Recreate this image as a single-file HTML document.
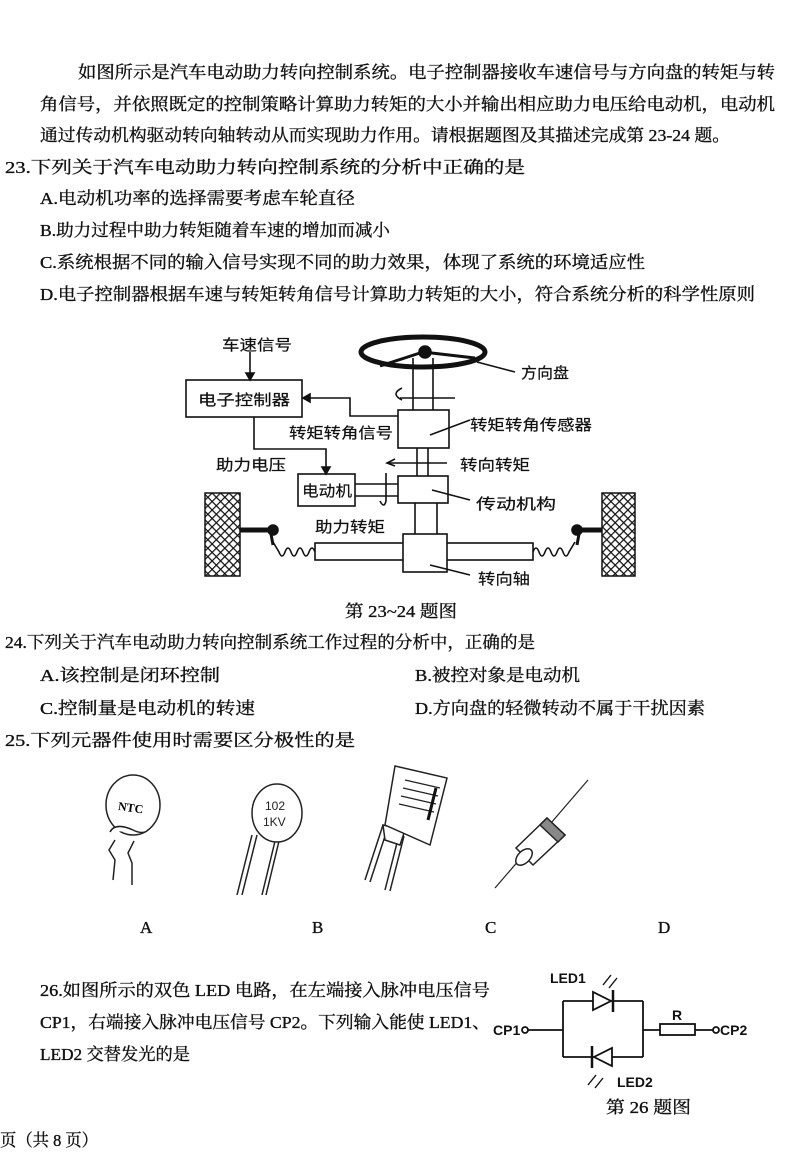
<!DOCTYPE html>
<html><head><meta charset="utf-8"><style>
html,body{margin:0;padding:0;background:#fff;}
svg{display:block;}
.t{font-family:"Liberation Serif","Noto Serif CJK SC",serif;font-size:17px;fill:#111;stroke:#111;stroke-width:0.35;}
.s{font-family:"Liberation Sans","Noto Sans CJK SC",sans-serif;font-size:15px;fill:#111;stroke:#111;stroke-width:0.2;}
</style></head><body>
<svg width="800" height="1168" viewBox="0 0 800 1168" xmlns="http://www.w3.org/2000/svg">
<g class="t">
<text x="78" y="78" textLength="697" lengthAdjust="spacingAndGlyphs">如图所示是汽车电动助力转向控制系统。电子控制器接收车速信号与方向盘的转矩与转</text>
<text x="40" y="110" textLength="735" lengthAdjust="spacingAndGlyphs">角信号，并依照既定的控制策略计算助力转矩的大小并输出相应助力电压给电动机，电动机</text>
<text x="40" y="141" textLength="690" lengthAdjust="spacingAndGlyphs">通过传动机构驱动转向轴转动从而实现助力作用。请根据题图及其描述完成第 23-24 题。</text>
<text x="5" y="173" textLength="520" lengthAdjust="spacingAndGlyphs">23.下列关于汽车电动助力转向控制系统的分析中正确的是</text>
<text x="40" y="204" textLength="315" lengthAdjust="spacingAndGlyphs">A.电动机功率的选择需要考虑车轮直径</text>
<text x="40" y="236" textLength="350" lengthAdjust="spacingAndGlyphs">B.助力过程中助力转矩随着车速的增加而减小</text>
<text x="40" y="268" textLength="605" lengthAdjust="spacingAndGlyphs">C.系统根据不同的输入信号实现不同的助力效果，体现了系统的环境适应性</text>
<text x="40" y="300" textLength="715" lengthAdjust="spacingAndGlyphs">D.电子控制器根据车速与转矩转角信号计算助力转矩的大小，符合系统分析的科学性原则</text>
<text x="345" y="617" textLength="112" lengthAdjust="spacingAndGlyphs">第 23~24 题图</text>
<text x="5" y="648" textLength="530" lengthAdjust="spacingAndGlyphs">24.下列关于汽车电动助力转向控制系统工作过程的分析中，正确的是</text>
<text x="40" y="681" textLength="180" lengthAdjust="spacingAndGlyphs">A.该控制是闭环控制</text>
<text x="415" y="681" textLength="165" lengthAdjust="spacingAndGlyphs">B.被控对象是电动机</text>
<text x="40" y="714" textLength="215" lengthAdjust="spacingAndGlyphs">C.控制量是电动机的转速</text>
<text x="415" y="714" textLength="290" lengthAdjust="spacingAndGlyphs">D.方向盘的轻微转动不属于干扰因素</text>
<text x="5" y="746" textLength="350" lengthAdjust="spacingAndGlyphs">25.下列元器件使用时需要区分极性的是</text>
<text x="140" y="933">A</text><text x="312" y="933">B</text><text x="485" y="933">C</text><text x="658" y="933">D</text>
<text x="40" y="996" textLength="450" lengthAdjust="spacingAndGlyphs">26.如图所示的双色 LED 电路，在左端接入脉冲电压信号</text>
<text x="40" y="1028" textLength="450" lengthAdjust="spacingAndGlyphs">CP1，右端接入脉冲电压信号 CP2。下列输入能使 LED1、</text>
<text x="40" y="1060" textLength="150" lengthAdjust="spacingAndGlyphs">LED2 交替发光的是</text>
<text x="606" y="1113" textLength="85" lengthAdjust="spacingAndGlyphs">第 26 题图</text>
<text x="0" y="1146" textLength="98" lengthAdjust="spacingAndGlyphs">页（共 8 页）</text>
</g>

<g stroke="#111" fill="none" stroke-width="1.6">
<rect x="186" y="380" width="116" height="37"/>
<line x1="250" y1="352" x2="250" y2="374"/>
<polygon points="246,373 254,373 250,380" fill="#111"/>
<ellipse cx="423" cy="352" rx="62" ry="15" stroke-width="5"/>
<line x1="423" y1="352" x2="380" y2="366" stroke-width="3"/>
<line x1="423" y1="352" x2="475" y2="358" stroke-width="3"/>
<circle cx="425" cy="352" r="6" fill="#111"/>
<line x1="413" y1="358" x2="413" y2="410"/><line x1="433" y1="358" x2="433" y2="410"/>
<line x1="400" y1="398" x2="455" y2="398"/>
<path d="M402,388 q-12,6 0,12"/>
<rect x="398" y="410" width="51" height="38" fill="#fff"/>
<polyline points="398,416 350,416 350,398 310,398"/>
<polygon points="310,394 310,402 303,398" fill="#111"/>
<line x1="430" y1="435" x2="470" y2="420"/>
<line x1="477" y1="362" x2="515" y2="372"/>
<line x1="417" y1="448" x2="417" y2="476"/><line x1="428" y1="448" x2="428" y2="476"/>
<line x1="387" y1="463" x2="447" y2="463"/>
<path d="M395,459 l-8,4 l8,3"/>
<rect x="398" y="476" width="50" height="27" fill="#fff"/>
<rect x="298" y="474" width="57" height="32"/>
<line x1="355" y1="484" x2="398" y2="484"/><line x1="355" y1="496" x2="398" y2="496"/>
<path d="M386,473 l0,28 q-2,8 -6,0"/>
<polyline points="254,417 254,449 326,449 326,467"/>
<polygon points="322,467 330,467 326,474" fill="#111"/>
<line x1="432" y1="490" x2="470" y2="500"/>
<line x1="415" y1="503" x2="415" y2="534"/><line x1="437" y1="503" x2="437" y2="534"/>
<rect x="315" y="543" width="218" height="17"/>
<rect x="403" y="534" width="44" height="38" fill="#fff"/>
<line x1="430" y1="565" x2="470" y2="575"/>
<path d="M315,552 q-3,-8 -6,0 t-6,0 t-6,0 t-6,0 t-6,0 t-6,0 l-6,-10"/>
<path d="M533,552 q3,-8 6,0 t6,0 t6,0 t6,0 t6,0 t6,0 l6,-10"/>
<line x1="240" y1="530" x2="273" y2="530" stroke-width="5"/>
<line x1="577" y1="530" x2="602" y2="530" stroke-width="5"/>
<circle cx="273" cy="530" r="5" fill="#111"/><circle cx="577" cy="530" r="5" fill="#111"/>
<line x1="271" y1="534" x2="273" y2="545" stroke-width="3"/>
<line x1="579" y1="534" x2="577" y2="545" stroke-width="3"/>
</g>
<defs><pattern id="h" width="6" height="6" patternUnits="userSpaceOnUse" patternTransform="rotate(45)"><rect width="6" height="6" fill="#fff"/><path d="M0,0 L0,6 M0,0 L6,0" stroke="#111" stroke-width="2.4"/></pattern></defs>
<rect x="205" y="493" width="35" height="83" fill="url(#h)" stroke="#111" stroke-width="1.5"/>
<rect x="602" y="493" width="33" height="83" fill="url(#h)" stroke="#111" stroke-width="1.5"/>
<g class="s">
<text x="222" y="350" textLength="70" lengthAdjust="spacingAndGlyphs">车速信号</text>
<text x="198" y="405" textLength="92" lengthAdjust="spacingAndGlyphs">电子控制器</text>
<text x="289" y="438" textLength="104" lengthAdjust="spacingAndGlyphs">转矩转角信号</text>
<text x="470" y="430" textLength="122" lengthAdjust="spacingAndGlyphs">转矩转角传感器</text>
<text x="521" y="378" textLength="48" lengthAdjust="spacingAndGlyphs">方向盘</text>
<text x="216" y="470" textLength="70" lengthAdjust="spacingAndGlyphs">助力电压</text>
<text x="460" y="470" textLength="70" lengthAdjust="spacingAndGlyphs">转向转矩</text>
<text x="302" y="496" textLength="50" lengthAdjust="spacingAndGlyphs">电动机</text>
<text x="476" y="509" textLength="80" lengthAdjust="spacingAndGlyphs">传动机构</text>
<text x="315" y="532" textLength="70" lengthAdjust="spacingAndGlyphs">助力转矩</text>
<text x="478" y="584" textLength="52" lengthAdjust="spacingAndGlyphs">转向轴</text>
</g>

<g stroke="#222" fill="#fff" stroke-width="1.5">
<path d="M113,880 l2,-20 l-6,-10 l6,-10 M132,885 l0,-22 l-4,-10 l6,-12"/>
<ellipse cx="133" cy="805" rx="27" ry="30"/>
<path d="M110,832 q5,-10 23,-2 q10,5 15,0"/>
<path d="M237,895 l15,-60 M242,895 l15,-60 M262,895 l14,-58 M266,895 l14,-58"/>
<ellipse cx="277" cy="813" rx="25" ry="29"/>
<path d="M365,880 l18,-55 M385,890 l14,-55 M370,882 l18,-55 M390,891 l14,-55"/>
<polygon points="383,825 405,830 400,845 385,840"/>
<polygon points="395,766 447,778 430,845 385,825"/>
<path d="M405,780 l35,8 M403,788 l35,8 M401,796 l35,8 M399,804 l35,8" stroke-width="1.2"/>
<path d="M436,788 l-8,32" stroke="#111" stroke-width="3"/>
<line x1="495" y1="888" x2="588" y2="780" stroke-width="1.2"/>
<polygon points="516,848 547,818 565,835 533,865"/>
<polygon points="540,825 547,818 565,835 558,842" fill="#888"/>
<ellipse cx="524" cy="857" rx="6" ry="10" transform="rotate(45 524 857)"/>
</g>
<text x="118" y="812" font-family="Liberation Serif,serif" font-weight="bold" font-size="12" transform="rotate(8 133 808)">NTC</text>
<text x="265" y="810" font-family="Liberation Sans,sans-serif" font-size="12" fill="#222">102</text>
<text x="263" y="826" font-family="Liberation Sans,sans-serif" font-size="12" fill="#222">1KV</text>

<g stroke="#111" fill="none" stroke-width="1.8">
<circle cx="525" cy="1030" r="3"/>
<line x1="528" y1="1030" x2="563" y2="1030"/>
<line x1="563" y1="1001" x2="563" y2="1057"/>
<line x1="643" y1="1001" x2="643" y2="1057"/>
<line x1="563" y1="1001" x2="643" y2="1001"/>
<line x1="563" y1="1057" x2="643" y2="1057"/>
<polygon points="593,992 593,1010 611,1001" fill="#fff"/>
<line x1="613" y1="990" x2="613" y2="1012" stroke-width="2.5"/>
<polygon points="612,1048 612,1066 594,1057" fill="#fff"/>
<line x1="592" y1="1046" x2="592" y2="1068" stroke-width="2.5"/>
<path d="M603,985 l8,-10 M609,988 l8,-10" stroke-width="1.4"/>
<path d="M596,1075 l-8,10 M603,1078 l-8,10" stroke-width="1.4"/>
<line x1="643" y1="1030" x2="660" y2="1030"/>
<rect x="660" y="1024" width="35" height="11" fill="#fff"/>
<line x1="695" y1="1030" x2="713" y2="1030"/>
<circle cx="716" cy="1030" r="3"/>
</g>
<g font-family="Liberation Sans,sans-serif" font-weight="bold" font-size="14" fill="#111">
<text x="493" y="1035">CP1</text>
<text x="720" y="1035">CP2</text>
<text x="672" y="1020">R</text>
<text x="550" y="983">LED1</text>
<text x="617" y="1087">LED2</text>
</g>
</svg>
</body></html>
